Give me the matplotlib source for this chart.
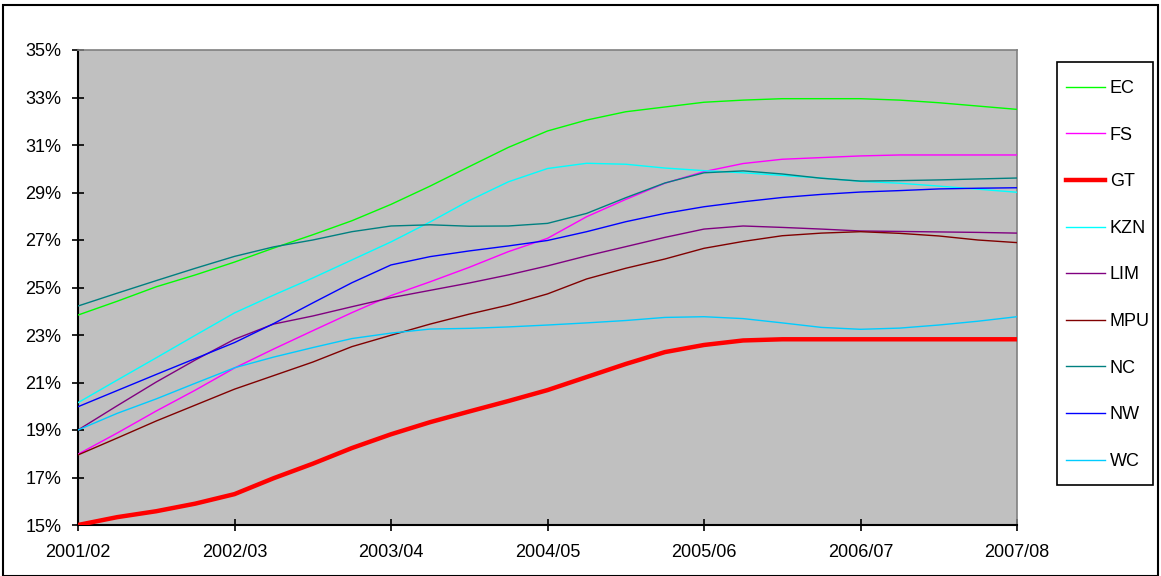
import numpy as np
import matplotlib
matplotlib.use("Agg")
from matplotlib import pyplot as plt
from matplotlib.patches import Rectangle

plt.rcParams['font.family'] = ['Liberation Sans', 'DejaVu Sans']

# financial years on the x axis, data read at quarterly steps
years = ['2001/02', '2002/03', '2003/04', '2004/05', '2005/06', '2006/07', '2007/08']
quarters = np.arange(25) / 4.0

EC = [23.84, 24.42, 25.03, 25.53, 26.07, 26.66, 27.22, 27.81, 28.50, 29.27, 30.09, 30.90, 31.59,
      32.05, 32.40, 32.60, 32.80, 32.89, 32.95, 32.95, 32.95, 32.89, 32.78, 32.64, 32.50]
FS = [17.98, 18.87, 19.80, 20.68, 21.61, 22.41, 23.18, 23.94, 24.66, 25.24, 25.85, 26.51, 27.07,
      27.98, 28.71, 29.39, 29.88, 30.22, 30.40, 30.47, 30.54, 30.58, 30.58, 30.58, 30.58]
GT = [15.00, 15.33, 15.58, 15.90, 16.30, 16.97, 17.58, 18.24, 18.82, 19.33, 19.78, 20.22, 20.68,
      21.23, 21.78, 22.28, 22.58, 22.77, 22.82, 22.82, 22.82, 22.82, 22.82, 22.82, 22.82]
KZN = [20.15, 21.10, 22.04, 22.99, 23.93, 24.68, 25.40, 26.16, 26.92, 27.76, 28.66, 29.45, 30.01,
       30.23, 30.19, 30.03, 29.92, 29.83, 29.72, 29.61, 29.47, 29.39, 29.27, 29.14, 29.01]
LIM = [19.00, 20.02, 21.02, 21.95, 22.82, 23.46, 23.80, 24.19, 24.57, 24.88, 25.19, 25.53, 25.91,
       26.33, 26.72, 27.11, 27.46, 27.59, 27.53, 27.46, 27.38, 27.36, 27.34, 27.32, 27.29]
MPU = [17.95, 18.66, 19.38, 20.05, 20.72, 21.29, 21.86, 22.51, 22.99, 23.46, 23.88, 24.26, 24.73,
       25.36, 25.81, 26.20, 26.65, 26.94, 27.18, 27.29, 27.35, 27.28, 27.17, 27.00, 26.89]
NC = [24.22, 24.76, 25.29, 25.81, 26.31, 26.71, 27.00, 27.35, 27.59, 27.64, 27.58, 27.59, 27.70,
      28.12, 28.78, 29.40, 29.83, 29.91, 29.78, 29.60, 29.48, 29.50, 29.53, 29.57, 29.61]
NW = [19.98, 20.66, 21.34, 22.01, 22.68, 23.48, 24.35, 25.20, 25.95, 26.30, 26.54, 26.75, 26.98,
      27.35, 27.77, 28.12, 28.40, 28.61, 28.79, 28.92, 29.02, 29.08, 29.15, 29.18, 29.20]
WC = [19.00, 19.70, 20.31, 20.97, 21.62, 22.07, 22.47, 22.85, 23.08, 23.25, 23.28, 23.34, 23.42,
      23.51, 23.61, 23.74, 23.77, 23.69, 23.51, 23.32, 23.24, 23.29, 23.42, 23.58, 23.77]

names = ['EC', 'FS', 'GT', 'KZN', 'LIM', 'MPU', 'NC', 'NW', 'WC']
series = [EC, FS, GT, KZN, LIM, MPU, NC, NW, WC]
colors = ['#00FF00', '#FF00FF', '#FF0000', '#00FFFF', '#800080', '#800000', '#008080', '#0000FF', '#00CCFF']

W, H = 1161, 576
fig = plt.figure(figsize=(W / 100, H / 100), dpi=100)
ax = fig.add_axes([78 / W, 51 / H, (1017 - 78) / W, (525 - 50) / H])
ax.set_facecolor('#C0C0C0')

for name, vals, col in zip(names, series, colors):
    lw = 3.2 if name == 'GT' else 1.0
    ax.plot(quarters, vals, color=col, lw=lw, label=name, zorder=4 if name == 'GT' else 3)

ax.set_xlim(0, 6)
ax.set_ylim(15, 35)
ax.set_xticks(range(len(years)))
ax.set_xticklabels(years)
ax.set_yticks(np.arange(15, 36, 2))
ax.set_yticklabels(['{:d}%'.format(int(v)) for v in np.arange(15, 36, 2)])
ax.tick_params(direction='inout', length=8, width=1.2, labelsize=13, colors='black')
ax.tick_params(axis='x', pad=9.5)
ax.tick_params(axis='y', pad=8)

for s in ['top', 'right']:
    ax.spines[s].set_color('#808080')
    ax.spines[s].set_linewidth(1.2)
for s in ['left', 'bottom']:
    ax.spines[s].set_color('black')
    ax.spines[s].set_linewidth(1.5)

# legend without its own frame, frame drawn separately to match the box
leg = ax.legend(loc='upper left', bbox_to_anchor=(1066 / W, 1 - 80 / H),
                bbox_transform=fig.transFigure, borderaxespad=0, borderpad=0, fontsize=13,
                labelspacing=1.64, handlelength=2.15, handletextpad=0.28, frameon=False)
fig.patches.append(Rectangle((1057 / W, 1 - 485 / H), (1153 - 1057) / W, (485 - 62) / H,
                             transform=fig.transFigure, fill=False, edgecolor='black', lw=1.2))

# outer chart border
fig.patches.append(Rectangle((3 / W, 0), (1158 - 3) / W, 1 - 5 / H,
                             transform=fig.transFigure, fill=False, edgecolor='black', lw=1.5))

fig.savefig('out.png', dpi=100, facecolor='white')
